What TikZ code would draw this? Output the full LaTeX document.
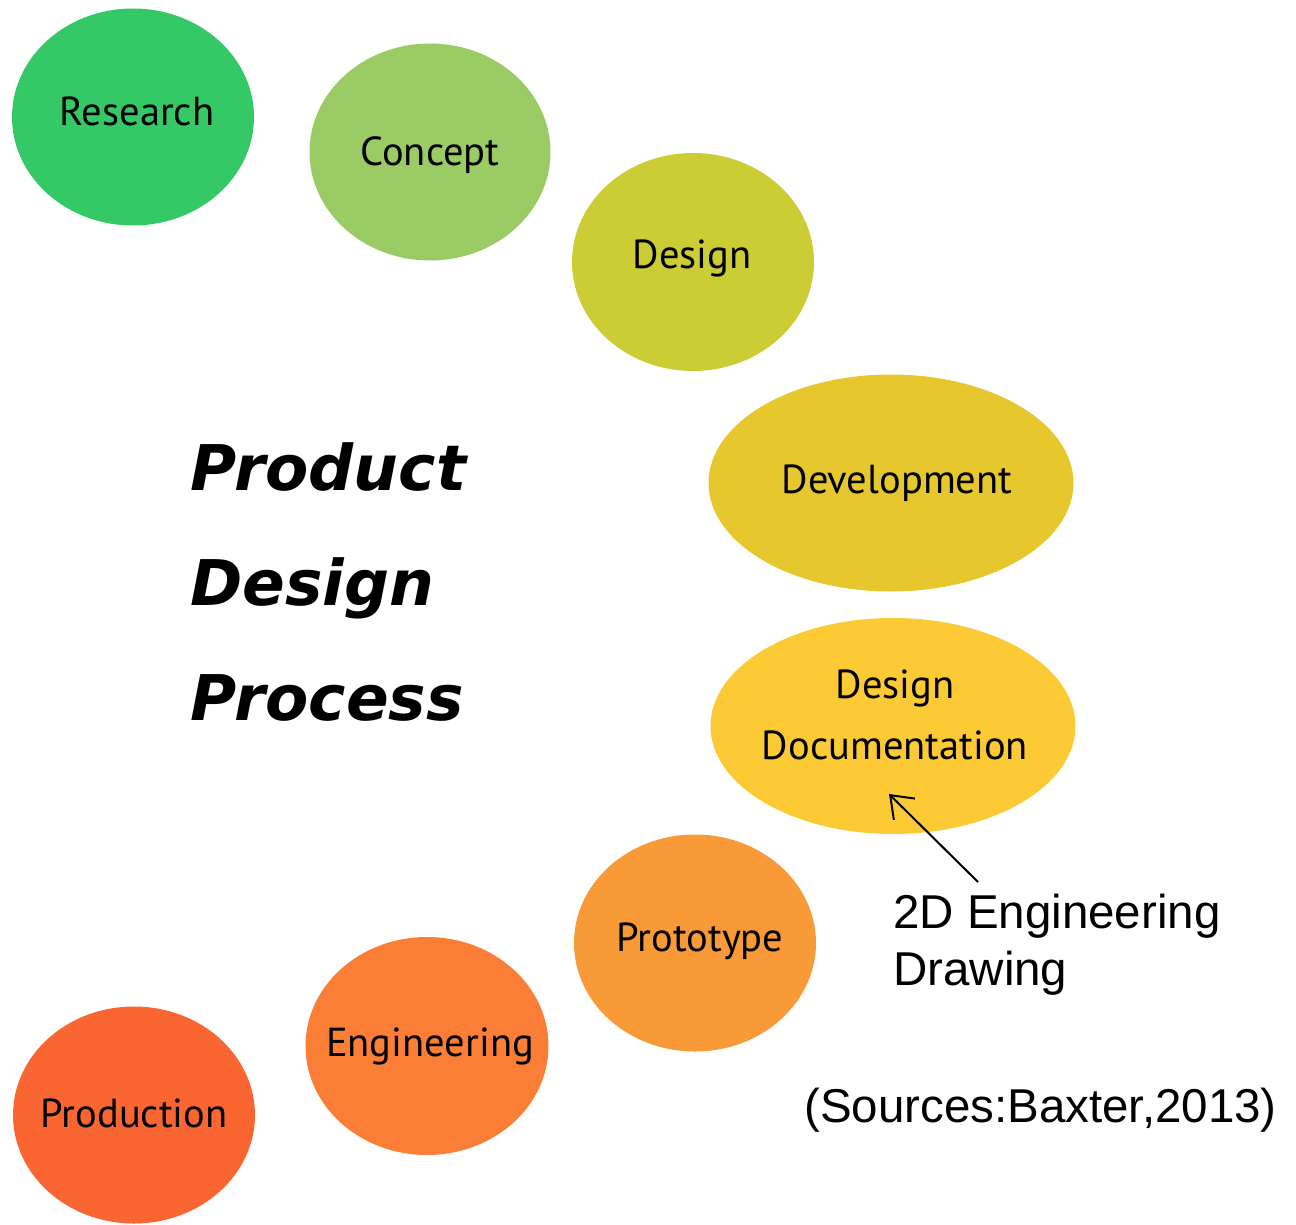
\documentclass[tikz,border=0pt]{standalone}
\usepackage{fontspec}
\setmainfont{PT Sans}
\newfontfamily\arialfont{Liberation Sans}
\newfontfamily\titlefont{DejaVu Sans}
\usetikzlibrary{shapes.geometric,arrows.meta}

\definecolor{cResearch}{RGB}{52,200,102}
\definecolor{cConcept}{RGB}{155,203,100}
\definecolor{cDesign}{RGB}{204,204,52}
\definecolor{cDevelop}{RGB}{230,200,46}
\definecolor{cDoc}{RGB}{252,202,52}
\definecolor{cProto}{RGB}{248,154,55}
\definecolor{cEngin}{RGB}{250,126,53}
\definecolor{cProd}{RGB}{250,102,50}

\tikzset{
  phase/.style={ellipse, inner sep=0pt, outer sep=0pt, draw=none},
  phaselabel/.style={inner sep=0pt, text=black, font=\fontsize{40.5}{50}\selectfont},
  note/.style={anchor=base west, inner sep=0pt, font=\arialfont\fontsize{47.5}{57}\selectfont, align=left},
  titleline/.style={anchor=base west, inner sep=0pt,
    font=\titlefont\bfseries\itshape\fontsize{63}{70}\selectfont}
}

\begin{document}
\begin{tikzpicture}[x=1pt,y=-1pt]
  \useasboundingbox (0,0) rectangle (1296,1225);

  % process phases
  \node[phase, fill=cResearch, minimum width=242, minimum height=217] (research) at (133,117) {};
  \node[phaselabel] (lresearch) at (137,111) {Research};
  \node[phase, fill=cConcept, minimum width=241, minimum height=217] (concept) at (430,152) {};
  \node[phaselabel] (lconcept) at (430,155) {Concept};
  \node[phase, fill=cDesign, minimum width=242, minimum height=218] (design) at (693,262) {};
  \node[phaselabel] (ldesign) at (692,258) {Design};
  \node[phase, fill=cDevelop, minimum width=365, minimum height=217] (develop) at (891,483) {};
  \node[phaselabel] (ldevelop) at (897,483) {Development};
  \node[phase, fill=cDoc, minimum width=365, minimum height=216] (doc) at (893,726) {};
  \node[phaselabel] (ldoc1) at (895,688) {Design};
  \node[phaselabel] (ldoc2) at (895,745) {Documentation};
  \node[phase, fill=cProto, minimum width=242, minimum height=217] (proto) at (695,943) {};
  \node[phaselabel] (lproto) at (700,941) {Prototype};
  \node[phase, fill=cEngin, minimum width=243, minimum height=218] (engin) at (427,1046) {};
  \node[phaselabel] (lengin) at (430,1046) {Engineering};
  \node[phase, fill=cProd, minimum width=242, minimum height=217] (prod) at (134,1115) {};
  \node[phaselabel] (lprod) at (134,1113) {Production};

  % title
  \node[titleline] (t1) at (190,490) {Product};
  \node[titleline] (t2) at (190,605) {Design};
  \node[titleline] (t3) at (190,720) {Process};

  % annotation
  \node[note] (ann1) at (893,928) {2D Engineering};
  \node[note] (ann2) at (893,985) {Drawing};
  \coordinate (tail) at (978,882);
  \coordinate (tip) at (889,794);
  \draw[line width=2pt, -{Straight Barb[length=20pt,width=30pt,line width=2pt]}] (tail) -- (tip);

  \node[note, anchor=base east] (src) at (1277,1122) {(Sources:Baxter,2013)};
\end{tikzpicture}
\end{document}
